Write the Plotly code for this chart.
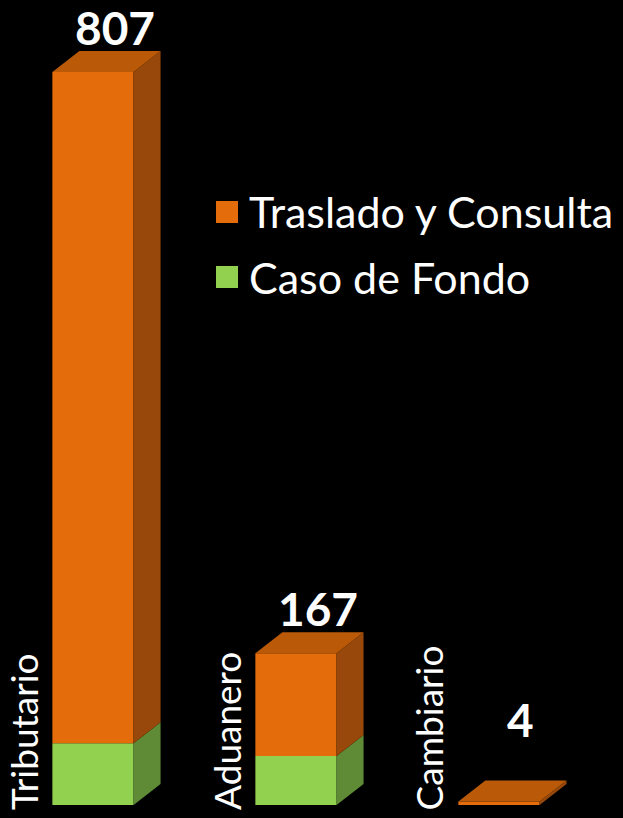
import plotly.graph_objects as go

# ---- data ----
categories = ["Tributario", "Aduanero", "Cambiario"]
series_names = ["Traslado y Consulta", "Caso de Fondo"]
caso_fondo = [68, 54, 0]
traslado = [739, 113, 4]
totals = [a + b for a, b in zip(caso_fondo, traslado)]

# ---- styling ----
W, H = 623, 818
X_RANGE = [-0.458, 2.611]
Y_RANGE = [-14.3, 886.3]
px_x = W / (X_RANGE[1] - X_RANGE[0])
px_y = H / (Y_RANGE[1] - Y_RANGE[0])
DX = 27 / px_x          # depth offset in x data units
DY = 21 / px_y          # depth offset in y data units
HALF = 0.2              # half bar width

colors = {
    "Traslado y Consulta": {"front": "#E46C0A", "side": "#97480A", "top": "#BA5A08"},
    "Caso de Fondo": {"front": "#92D050", "side": "#5F8A36", "top": "#78AC42"},
}
FONT = "Lato"

fig = go.Figure()

xs = list(range(len(categories)))
segments = [("Caso de Fondo", caso_fondo, [0] * len(categories)),
            ("Traslado y Consulta", traslado, caso_fondo)]

# front faces via bars
for name, vals, bases in segments:
    fig.add_trace(go.Bar(
        x=xs, y=vals, base=bases, width=2 * HALF,
        marker=dict(color=colors[name]["front"], line=dict(width=0)),
        name=name, showlegend=False, hoverinfo="skip"))

# side faces and top faces
for i in xs:
    for name, vals, bases in segments:
        h = vals[i]
        b = bases[i]
        if h <= 0:
            continue
        xr = i + HALF
        fig.add_trace(go.Scatter(
            x=[xr, xr + DX, xr + DX, xr, xr],
            y=[b, b + DY, b + h + DY, b + h, b],
            mode="lines", fill="toself", fillcolor=colors[name]["side"],
            line=dict(width=0, color=colors[name]["side"]),
            showlegend=False, hoverinfo="skip"))
    t = totals[i]
    topname = "Traslado y Consulta" if traslado[i] > 0 else "Caso de Fondo"
    xl = i - HALF
    xr = i + HALF
    fig.add_trace(go.Scatter(
        x=[xl, xr, xr + DX, xl + DX, xl],
        y=[t, t, t + DY, t + DY, t],
        mode="lines", fill="toself", fillcolor=colors[topname]["top"],
        line=dict(width=0, color=colors[topname]["top"]),
        showlegend=False, hoverinfo="skip"))

annotations = []
# value labels
for i in xs:
    annotations.append(dict(
        x=i + DX / 2 + 0.04, y=max(totals[i], 45), xref="x", yref="y",
        text=str(totals[i]), showarrow=False, xanchor="center", yanchor="bottom",
        yshift=15, font=dict(family=FONT, size=46, color="white", weight="bold")))
# category labels
for i, c in enumerate(categories):
    annotations.append(dict(
        x=i - 0.345, y=0, xref="x", yref="y", text=c, textangle=-90,
        showarrow=False, xanchor="center", yanchor="bottom", yshift=-7,
        font=dict(family=FONT, size=37, color="white")))

# legend (manual)
shapes = []
legend_rows = [("Traslado y Consulta", 212), ("Caso de Fondo", 277)]
for name, cy in legend_rows:
    shapes.append(dict(type="rect", xref="paper", yref="paper",
                       x0=216 / W, x1=238 / W, y0=1 - (cy + 11) / H, y1=1 - (cy - 11) / H,
                       fillcolor=colors[name]["front"], line=dict(width=0)))
    annotations.append(dict(
        x=247 / W, y=1 - cy / H, xref="paper", yref="paper", text=name,
        showarrow=False, xanchor="left", yanchor="middle",
        font=dict(family=FONT, size=43, color="white")))

fig.update_layout(
    width=W, height=H, margin=dict(l=0, r=0, t=0, b=0),
    paper_bgcolor="black", plot_bgcolor="black",
    barmode="overlay", showlegend=False,
    xaxis=dict(range=X_RANGE, visible=False, fixedrange=True),
    yaxis=dict(range=Y_RANGE, visible=False, fixedrange=True),
    annotations=annotations, shapes=shapes,
)

fig.write_html("out.html", config={"displayModeBar": False},
               post_script="document.body.style.margin='0';document.body.style.background='black';")
